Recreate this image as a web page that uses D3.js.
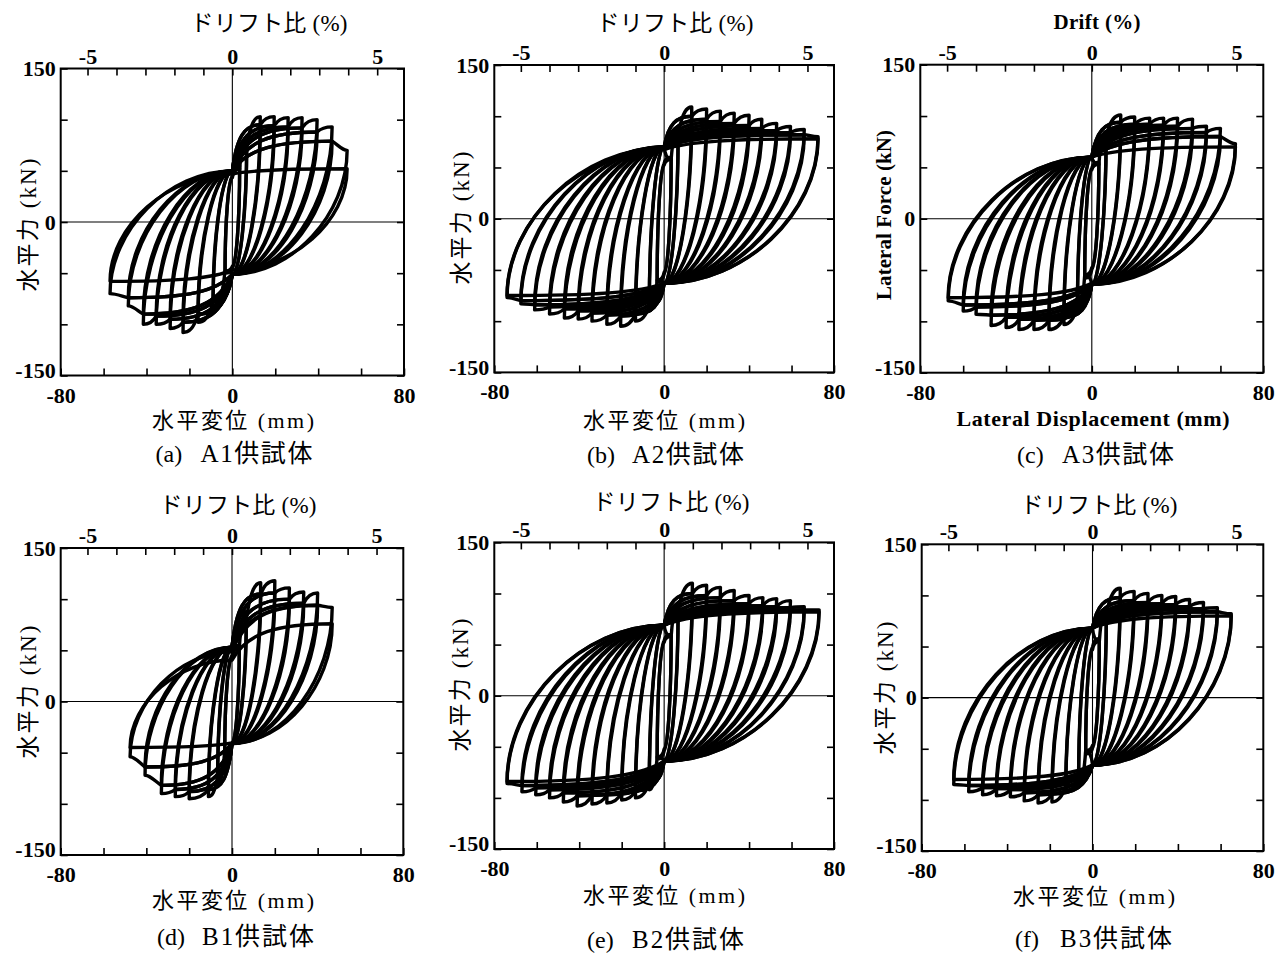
<!DOCTYPE html>
<html><head><meta charset="utf-8">
<script src="https://cdn.jsdelivr.net/npm/d3@7"></script>
<style>body{margin:0;background:#fff} svg{display:block}</style>
</head><body>
<svg id="chart" width="1280" height="955"></svg>
<script>
// ---------------- data ----------------
// peak points of every loading cycle (two cycles per amplitude), mm / kN
const A1_posDisp  = [3.4,3.4, 6.7,6.7, 13,13, 19.5,19.5, 26,26, 32.5,32.5, 39.5,39.5, 46.5,46.5, 53.5,53.5];
const A1_posForce = [55,52, 80,74, 103,95, 103,94, 102,93, 102,92, 100,88, 93,79, 70,52];
const A1_negDisp  = [-3.4,-3.4, -9,-9, -16,-16, -23,-23, -29,-29, -35.5,-35.5, -41.5,-41.5, -48.5,-48.5, -57,-57];
const A1_negForce = [-50,-48, -85,-78, -98,-90, -108,-98, -104,-95, -100,-92, -100,-90, -82,-74, -70,-58];
const A1_pinch    = [50, -51];

const A2_posDisp  = [3.3,3.3, 6.6,6.6, 13,13, 20,20, 26.5,26.5, 33,33, 40,40, 46,46, 53,53, 59.5,59.5, 66,66, 72.5,72.5];
const A2_posForce = [60,58, 88,82, 109,100, 107,97, 105,95, 103,93, 101,91, 97,88, 93,86, 90,84, 87,82, 80,78];
const A2_negDisp  = [-3.3,-3.3, -7,-7, -13.5,-13.5, -20.5,-20.5, -27,-27, -34,-34, -40.5,-40.5, -47,-47, -54,-54, -61,-61, -67.5,-67.5, -74,-74];
const A2_negForce = [-62,-60, -90,-85, -100,-93, -105,-95, -103,-94, -100,-92, -98,-90, -97,-88, -93,-86, -89,-84, -83,-80, -77,-75];
const A2_pinch    = [70, -63];

const A3_posDisp  = [3.3,3.3, 6.7,6.7, 13.5,13.5, 20,20, 27,27, 33.5,33.5, 40,40, 47,47, 53.5,53.5, 60,60, 67,67];
const A3_posForce = [55,53, 85,80, 101,94, 99,92, 98,92, 98,91, 98,90, 97,88, 90,84, 88,80, 73,70];
const A3_negDisp  = [-3.3,-3.3, -6.7,-6.7, -13,-13, -20,-20, -27,-27, -34,-34, -40,-40, -47,-47, -54,-54, -60,-60, -67,-67];
const A3_negForce = [-58,-55, -90,-85, -103,-96, -108,-99, -108,-99, -108,-98, -106,-96, -104,-94, -93,-86, -90,-84, -80,-77];
const A3_pinch    = [60, -64];

const B1_posDisp  = [3.4,3.4, 6.7,6.7, 13.4,13.4, 20,20, 26.8,26.8, 33.5,33.5, 40,40, 46.8,46.8];
const B1_posForce = [55,52, 88,80, 116,105, 118,106, 111,100, 107,96, 106,94, 92,76];
const B1_negDisp  = [-3.4,-3.4, -6.7,-6.7, -11,-11, -20,-20, -26.5,-26.5, -33,-33, -40.6,-40.6, -47.6,-47.6];
const B1_negForce = [-50,-48, -80,-72, -93,-86, -95,-88, -93,-86, -90,-82, -72,-64, -54,-45];
const B1_pinch    = [53, -41];

const B2_posDisp  = [3.3,3.3, 6.6,6.6, 13.3,13.3, 20,20, 26.5,26.5, 33,33, 40,40, 46.5,46.5, 53,53, 59.5,59.5, 66,66, 73,73];
const B2_posForce = [60,58, 90,84, 110,100, 108,98, 106,96, 103,93, 98,90, 96,88, 95,87, 93,86, 87,84, 84,82];
const B2_negDisp  = [-3.3,-3.3, -7,-7, -13.5,-13.5, -20,-20, -27,-27, -34,-34, -41,-41, -47.5,-47.5, -54,-54, -60.5,-60.5, -67,-67, -74,-74];
const B2_negForce = [-62,-60, -92,-85, -100,-93, -102,-95, -105,-97, -106,-97, -108,-98, -104,-95, -100,-92, -97,-90, -94,-88, -86,-84];
const B2_pinch    = [69, -64];

const B3_posDisp  = [3.2,3.2, 6.5,6.5, 13,13, 19.5,19.5, 26,26, 32.5,32.5, 39,39, 45.5,45.5, 52,52, 58.5,58.5, 65,65];
const B3_posForce = [58,55, 88,82, 107,98, 104,95, 102,93, 100,92, 99,91, 96,89, 93,87, 88,84, 82,80];
const B3_negDisp  = [-3.2,-3.2, -6.5,-6.5, -12.5,-12.5, -19,-19, -25.5,-25.5, -32,-32, -38.5,-38.5, -45,-45, -51.5,-51.5, -58,-58, -65,-65];
const B3_negForce = [-55,-52, -85,-78, -92,-86, -102,-94, -103,-95, -101,-93, -97,-90, -96,-89, -95,-88, -92,-86, -85,-80];
const B3_pinch    = [68, -66];

// axes
const xDomain = [-80, 80];
const yDomain = [-150, 150];
const xTicks = [-80, -60, -40, -20, 0, 20, 40, 60, 80];
const xTickLabels = [-80, 0, 80];
const yTicks = [-150, -100, -50, 0, 50, 100, 150];
const yTickLabels = [-150, 0, 150];
const driftTicks = [-5, -4, -3, -2, -1, 0, 1, 2, 3, 4, 5];
const driftTickLabels = [-5, 0, 5];
const mmPerPercent = 13.5;

const panelData = [
  {posDisp:A1_posDisp, posForce:A1_posForce, negDisp:A1_negDisp, negForce:A1_negForce, pinch:A1_pinch,
   topTitle:"ドリフト比 (%)", yTitle:"水平力 (kN)", xTitle:"水平変位 (mm)", capA:"(a)", capB:"A1供試体", en:false},
  {posDisp:A2_posDisp, posForce:A2_posForce, negDisp:A2_negDisp, negForce:A2_negForce, pinch:A2_pinch,
   topTitle:"ドリフト比 (%)", yTitle:"水平力 (kN)", xTitle:"水平変位 (mm)", capA:"(b)", capB:"A2供試体", en:false},
  {posDisp:A3_posDisp, posForce:A3_posForce, negDisp:A3_negDisp, negForce:A3_negForce, pinch:A3_pinch,
   topTitle:"Drift (%)", yTitle:"Lateral Force (kN)", xTitle:"Lateral Displacement (mm)", capA:"(c)", capB:"A3供試体", en:true},
  {posDisp:B1_posDisp, posForce:B1_posForce, negDisp:B1_negDisp, negForce:B1_negForce, pinch:B1_pinch,
   topTitle:"ドリフト比 (%)", yTitle:"水平力 (kN)", xTitle:"水平変位 (mm)", capA:"(d)", capB:"B1供試体", en:false},
  {posDisp:B2_posDisp, posForce:B2_posForce, negDisp:B2_negDisp, negForce:B2_negForce, pinch:B2_pinch,
   topTitle:"ドリフト比 (%)", yTitle:"水平力 (kN)", xTitle:"水平変位 (mm)", capA:"(e)", capB:"B2供試体", en:false},
  {posDisp:B3_posDisp, posForce:B3_posForce, negDisp:B3_negDisp, negForce:B3_negForce, pinch:B3_pinch,
   topTitle:"ドリフト比 (%)", yTitle:"水平力 (kN)", xTitle:"水平変位 (mm)", capA:"(f)", capB:"B3供試体", en:false}
];

// ---------------- layout ----------------
const layout = [
  {L:60.7, R:404,   T:68.5,  B:375.5, tCx:269,  tY:31,  yTx:28,  yTcy:225, xTcx:233,  xTy:428, cCx:233.5, cY:462},
  {L:494.3,R:834,   T:65,    B:372.4, tCx:675,  tY:31,  yTx:461, yTcy:218, xTcx:664,  xTy:428, cCx:665,   cY:463},
  {L:920.3,R:1263.3,T:64.7,  B:372.7, tCx:1097, tY:29,  yTx:884, yTcy:215, xTcx:1093, xTy:426, cCx:1095,  cY:463},
  {L:60.7, R:403.3, T:548,   B:855,   tCx:238,  tY:513, yTx:28,  yTcy:692, xTcx:233,  xTy:908, cCx:235,   cY:945},
  {L:494.3,R:834,   T:542.4, B:849,   tCx:671,  tY:510, yTx:460, yTcy:685, xTcx:664,  xTy:903, cCx:665,   cY:948},
  {L:921.7,R:1263.3,T:544.3, B:851,   tCx:1099, tY:513, yTx:885, yTcy:688, xTcx:1094, xTy:904, cCx:1093,  cY:947}
];

const SERIF = "'Liberation Serif','Noto Sans CJK JP',serif";
const svg = d3.select("#chart");
svg.append("rect").attr("width",1280).attr("height",955).attr("fill","#fff");

// loading branch from the pinch point to a peak; a first cycle to a new amplitude
// runs along the band of the previous amplitude and then rises to its own peak
function loading(p, x, y, P0, D, F, Dv, Fv) {
  if (Dv !== null) {
    p.bezierCurveTo(x(0.15*Dv), y(P0 + 0.75*(Fv-P0)), x(0.45*Dv), y(Fv), x(Dv), y(Fv));
    if (Math.abs(F) >= Math.abs(Fv)) {
      p.bezierCurveTo(x(Dv + 0.3*(D-Dv)), y(Fv + 0.85*(F-Fv)), x(Dv + 0.65*(D-Dv)), y(F), x(D), y(F));
    } else {
      p.bezierCurveTo(x(Dv + 0.33*(D-Dv)), y(Fv + 0.33*(F-Fv)), x(Dv + 0.67*(D-Dv)), y(F), x(D), y(F));
    }
  } else {
    p.bezierCurveTo(x(0.15*D), y(P0 + 0.75*(F-P0)), x(0.45*D), y(F), x(D), y(F));
  }
}
// unloading branch from a peak to the pinch point on the opposite side
function unloading(p, x, y, D, F, P1) {
  const k = 0.52;
  p.bezierCurveTo(x(D), y(F - k*(F-P1)), x(k*D), y(P1), x(0), y(P1));
}

function loopPath(x, y, P, j) {
  const Dp = P.posDisp[j], Fp = P.posForce[j], Dn = P.negDisp[j], Fn = P.negForce[j];
  const pt = Math.min(P.pinch[0], 0.9*Fp, -0.9*Fn);
  const pb = Math.max(P.pinch[1], -0.9*Fp, 0.9*Fn);
  const viaP = (j > 0 && P.posDisp[j-1] < Dp) ? [P.posDisp[j-1], P.posForce[j-1]] : [null, null];
  const viaN = (j > 0 && P.negDisp[j-1] > Dn) ? [P.negDisp[j-1], P.negForce[j-1]] : [null, null];
  const p = d3.path();
  p.moveTo(x(0), y(pt));
  loading(p, x, y, pt, Dp, Fp, viaP[0], viaP[1]);
  unloading(p, x, y, Dp, Fp, pb);
  loading(p, x, y, pb, Dn, Fn, viaN[0], viaN[1]);
  unloading(p, x, y, Dn, Fn, pt);
  p.closePath();
  return p.toString();
}

panelData.forEach((P, i) => {
  const Lo = layout[i];
  const x = d3.scaleLinear().domain(xDomain).range([Lo.L, Lo.R]);
  const y = d3.scaleLinear().domain(yDomain).range([Lo.B, Lo.T]);
  const xd = d3.scaleLinear().domain(xDomain.map(v => v / mmPerPercent)).range([Lo.L, Lo.R]);
  const g = svg.append("g");

  const cid = "clip" + i;
  svg.append("clipPath").attr("id", cid).append("rect")
    .attr("x", Lo.L).attr("y", Lo.T).attr("width", Lo.R - Lo.L).attr("height", Lo.B - Lo.T);

  // zero lines
  g.append("line").attr("x1", x(0)).attr("x2", x(0)).attr("y1", Lo.T).attr("y2", Lo.B)
    .attr("stroke", "#000").attr("stroke-width", 1.1);
  g.append("line").attr("x1", Lo.L).attr("x2", Lo.R).attr("y1", y(0)).attr("y2", y(0))
    .attr("stroke", "#000").attr("stroke-width", 1.1);

  // hysteresis loops
  const lg = g.append("g").attr("clip-path", `url(#${cid})`);
  lg.selectAll("path").data(P.posDisp).join("path")
    .attr("d", (d, j) => loopPath(x, y, P, j))
    .attr("fill", "none").attr("stroke", "#000").attr("stroke-width", 3.4)
    .attr("stroke-linejoin", "round");

  // axes (inward ticks)
  const fmt = list => d => list.includes(d) ? String(d) : "";
  const styleAxis = (sel, fs) => {
    sel.select(".domain").remove();
    sel.selectAll(".tick line").attr("stroke", "#000").attr("stroke-width", 1.6);
    sel.selectAll(".tick text").attr("font-family", SERIF).attr("font-size", fs)
      .attr("font-weight", "bold").attr("fill", "#000");
  };
  g.append("g").attr("transform", `translate(0,${Lo.B})`)
    .call(d3.axisBottom(x).tickValues(xTicks).tickSizeInner(-7).tickSizeOuter(0).tickPadding(11.4).tickFormat(fmt(xTickLabels)))
    .call(s => styleAxis(s, 22));
  g.append("g").attr("transform", `translate(0,${Lo.T})`)
    .call(d3.axisTop(xd).tickValues(driftTicks).tickSizeInner(-7).tickSizeOuter(0).tickPadding(5).tickFormat(fmt(driftTickLabels)))
    .call(s => styleAxis(s, 22));
  g.append("g").attr("transform", `translate(${Lo.L},0)`)
    .call(d3.axisLeft(y).tickValues(yTicks).tickSizeInner(-7).tickSizeOuter(0).tickPadding(5).tickFormat(fmt(yTickLabels)))
    .call(s => styleAxis(s, 22))
    .call(s => s.selectAll(".tick text").attr("dy", d => d === yDomain[0] ? "0.09em" : "0.32em"));
  g.append("g").attr("transform", `translate(${Lo.R},0)`)
    .call(d3.axisRight(y).tickValues(yTicks).tickSizeInner(-7).tickSizeOuter(0).tickFormat(() => ""))
    .call(s => styleAxis(s, 22));

  // frame
  g.append("rect").attr("x", Lo.L).attr("y", Lo.T).attr("width", Lo.R - Lo.L).attr("height", Lo.B - Lo.T)
    .attr("fill", "none").attr("stroke", "#000").attr("stroke-width", 2);

  // titles
  const en = P.en;
  g.append("text").attr("x", Lo.tCx).attr("y", Lo.tY).attr("text-anchor", "middle")
    .attr("font-family", SERIF).attr("font-size", en ? 21 : 23).attr("font-weight", en ? "bold" : "normal")
    .attr("textLength", en ? 87 : 157).attr("lengthAdjust", "spacing").text(P.topTitle);
  g.append("text").attr("x", Lo.xTcx).attr("y", Lo.xTy).attr("text-anchor", "middle")
    .attr("font-family", SERIF).attr("font-size", en ? 22 : 22).attr("font-weight", en ? "bold" : "normal")
    .attr("textLength", en ? 273 : 162).attr("lengthAdjust", "spacing").text(P.xTitle);
  g.append("text").attr("transform", `translate(${Lo.yTx},${Lo.yTcy}) rotate(-90)`)
    .attr("text-anchor", "middle").attr("dominant-baseline", "central")
    .attr("font-family", SERIF).attr("font-size", en ? 21 : 23).attr("font-weight", en ? "bold" : "normal")
    .attr("textLength", en ? 170 : 133).attr("lengthAdjust", "spacing").text(P.yTitle);
  // caption
  g.append("text").attr("x", Lo.cCx - 78).attr("y", Lo.cY)
    .attr("font-family", SERIF).attr("font-size", 24).text(P.capA);
  g.append("text").attr("x", Lo.cCx - 33).attr("y", Lo.cY)
    .attr("font-family", SERIF).attr("font-size", 25)
    .attr("textLength", 112).attr("lengthAdjust", "spacing").text(P.capB);
});
</script>
</body></html>
